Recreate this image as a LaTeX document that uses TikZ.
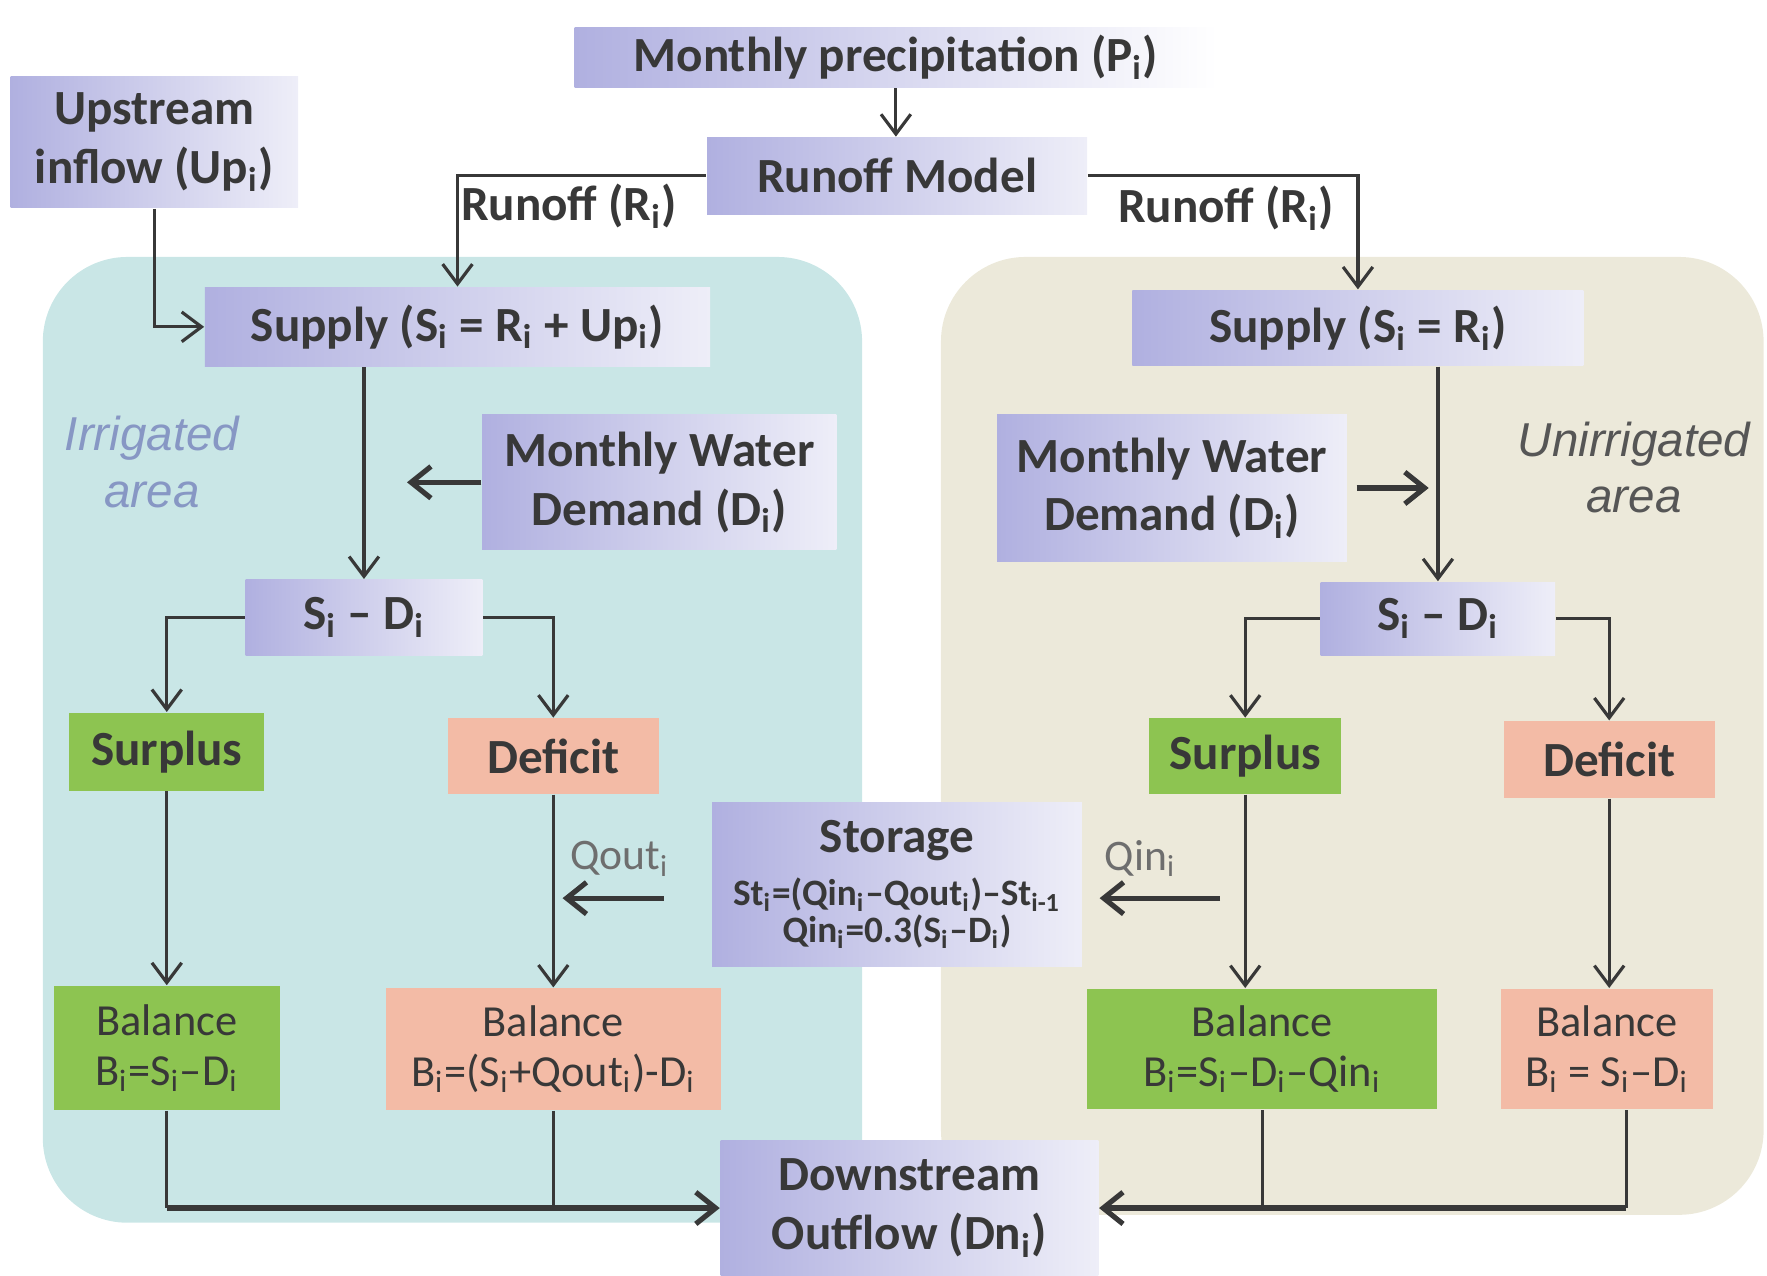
\documentclass[tikz,border=0pt]{standalone}
\usepackage{fontspec}
\setmainfont{Carlito}
\newfontfamily\arialfont{Liberation Sans}
\usetikzlibrary{arrows.meta}
\definecolor{txt}{HTML}{383838}
\definecolor{lavA}{HTML}{B0B0E0}
\definecolor{lavB}{HTML}{EEEEF8}
\definecolor{grn}{HTML}{8DC451}
\definecolor{slm}{HTML}{F3BBA6}
\definecolor{tealbg}{HTML}{C9E6E6}
\definecolor{beigebg}{HTML}{ECE9DA}
\definecolor{irrc}{HTML}{8797C4}
\definecolor{lblc}{HTML}{6E6E6E}
\newcommand{\sbi}[1]{\textsubscript{#1}}
\newcommand{\fb}{\fontsize{12.4}{14.8}\selectfont\bfseries}
\newcommand{\fr}{\fontsize{11.2}{12.6}\selectfont}
\newcommand{\fq}{\fontsize{11}{12.6}\selectfont}
\newcommand{\fsm}{\fontsize{9.4}{9.4}\selectfont\bfseries}
\newcommand{\fit}{\arialfont\itshape\fontsize{12}{14.2}\selectfont}
\begin{document}
\begin{tikzpicture}[x=0.01cm,y=-0.01cm,
  line/.style={draw=txt, line width=0.8pt},
  arr/.style={line, -{Straight Barb[length=5pt,width=7.5pt,line width=0.8pt]}},
  tarr/.style={draw=txt, line width=1.3pt, -{Straight Barb[length=5pt,width=8pt]}},
  bx/.style={rectangle, inner sep=0pt, align=center, text=txt, font=\fb, left color=lavA, right color=lavB},
  gbx/.style={rectangle, inner sep=0pt, align=center, text=txt, font=\fb, fill=grn},
  sbx/.style={rectangle, inner sep=0pt, align=center, text=txt, font=\fb, fill=slm},
  lbl/.style={font=\fb, text=txt, inner sep=0pt}
]
\useasboundingbox (0,0) rectangle (1568,1132);
% regions
\fill[tealbg, rounded corners=0.75cm] (38,228) rectangle (765,1085);
\fill[beigebg, rounded corners=0.75cm] (835,228) rectangle (1565,1078);

% nodes
\node[bx, minimum width=5.7cm, minimum height=0.53cm, right color=white] (precip) at (795,51) {Monthly precipitation (P\sbi{i})};
\node[bx, minimum width=2.55cm, minimum height=1.17cm] (up) at (137,126) {Upstream\\inflow (Up\sbi{i})};
\node[bx, minimum width=3.37cm, minimum height=0.68cm] (runoff) at (796,156) {Runoff Model};
\node[bx, minimum width=4.48cm, minimum height=0.70cm] (supL) at (406,290) {Supply (S\sbi{i} = R\sbi{i} + Up\sbi{i})};
\node[bx, minimum width=4.00cm, minimum height=0.67cm] (supR) at (1205,291) {Supply (S\sbi{i} = R\sbi{i})};
\node[bx, minimum width=3.14cm, minimum height=1.20cm] (demL) at (585,428) {Monthly Water\\Demand (D\sbi{i})};
\node[bx, minimum width=3.10cm, minimum height=1.30cm] (demR) at (1040,433) {Monthly Water\\Demand (D\sbi{i})};
\node[bx, minimum width=2.10cm, minimum height=0.67cm] (sdL) at (323,548) {S\sbi{i} – D\sbi{i}};
\node[bx, minimum width=2.08cm, minimum height=0.65cm] (sdR) at (1276,549) {S\sbi{i} – D\sbi{i}};
\node[gbx, minimum width=1.73cm, minimum height=0.69cm] (surL) at (148,667) {Surplus};
\node[sbx, minimum width=1.87cm, minimum height=0.67cm] (defL) at (491,671) {Deficit};
\node[gbx, minimum width=1.70cm, minimum height=0.67cm] (surR) at (1105,671) {Surplus};
\node[sbx, minimum width=1.87cm, minimum height=0.68cm] (defR) at (1428,674) {Deficit};
\node[gbx, font=\fr, minimum width=2.00cm, minimum height=1.10cm] (balL1) at (148,930) {Balance\\B\sbi{i}=S\sbi{i}–D\sbi{i}};
\node[sbx, font=\fr, minimum width=2.97cm, minimum height=1.08cm] (balL2) at (491,931) {Balance\\B\sbi{i}=(S\sbi{i}+Qout\sbi{i})-D\sbi{i}};
\node[bx, font=\fsm, minimum width=3.28cm, minimum height=1.46cm] (stor) at (796,785) {{\fb Storage}\\[4pt]St\sbi{i}=(Qin\sbi{i}–Qout\sbi{i})–St\sbi{i-1}\\Qin\sbi{i}=0.3(S\sbi{i}–D\sbi{i})};
\node[gbx, font=\fr, minimum width=3.10cm, minimum height=1.07cm] (balR1) at (1120,931) {Balance\\B\sbi{i}=S\sbi{i}–D\sbi{i}–Qin\sbi{i}};
\node[sbx, font=\fr, minimum width=1.88cm, minimum height=1.07cm] (balR2) at (1426,931) {Balance\\B\sbi{i} = S\sbi{i}–D\sbi{i}};
\node[bx, minimum width=3.35cm, minimum height=1.20cm] (down) at (807,1072) {Downstream\\Outflow (Dn\sbi{i})};

% labels
\node[lbl] (rL) at (505,183) {Runoff (R\sbi{i})};
\node[lbl] (rR) at (1088,185) {Runoff (R\sbi{i})};
\node[font=\fq, text=lblc] (qout) at (550,762) {Qout\sbi{i}};
\node[font=\fq, text=lblc] (qin) at (1012,762) {Qin\sbi{i}};
\node[font=\fit, text=irrc, align=center] (irr) at (135,410) {Irrigated\\area};
\node[font=\fit, text=txt!85, align=center] (unirr) at (1450,415) {Unirrigated\\area};

% connectors
\draw[arr] (precip.south) -- (precip.south |- runoff.north);
\draw[arr] (runoff.west) -| (supL.north);
\draw[arr] (runoff.east) -| (supR.north);
\draw[arr] (up.south) |- (supL.west);
\draw[arr] (sdL.north |- supL.south) -- (sdL.north);
\draw[tarr] (demL.west) -- ([xshift=-0.66cm]demL.west);
\draw[arr] (sdR.north |- supR.south) -- (sdR.north);
\draw[tarr] ([xshift=0.08cm]demR.east) -- ([xshift=0.72cm]demR.east);
\draw[arr] (sdL.west) -| (surL.north);
\draw[arr] (sdL.east) -| (defL.north);
\draw[arr] (sdR.west) -| (surR.north);
\draw[arr] (sdR.east) -| (defR.north);
\draw[arr] (surL.south) -- (surL.south |- balL1.north);
\draw[arr] (defL.south) -- (defL.south |- balL2.north);
\draw[arr] (surR.south) -- (surR.south |- balR1.north);
\draw[arr] (defR.south) -- (defR.south |- balR2.north);
\draw[tarr] ([shift={(-42,12)}]stor.west) -- ([shift={(-132,12)}]stor.west);
\draw[tarr] ([shift={(122,12)}]stor.east) -- ([shift={(15,12)}]stor.east);
\draw[line] (balL1.south) -- (balL1.south |- down.west);
\draw[tarr] (balL1.south |- down.west) -- (down.west);
\draw[line] (balL2.south) -- (balL2.south |- down.west);
\draw[line] ([xshift=0.17cm]balR2.south) -- ([xshift=0.17cm]balR2.south |- down.east);
\draw[tarr] ([xshift=0.17cm]balR2.south |- down.east) -- (down.east);
\draw[line] (balR1.south) -- (balR1.south |- down.east);
\end{tikzpicture}
\end{document}
